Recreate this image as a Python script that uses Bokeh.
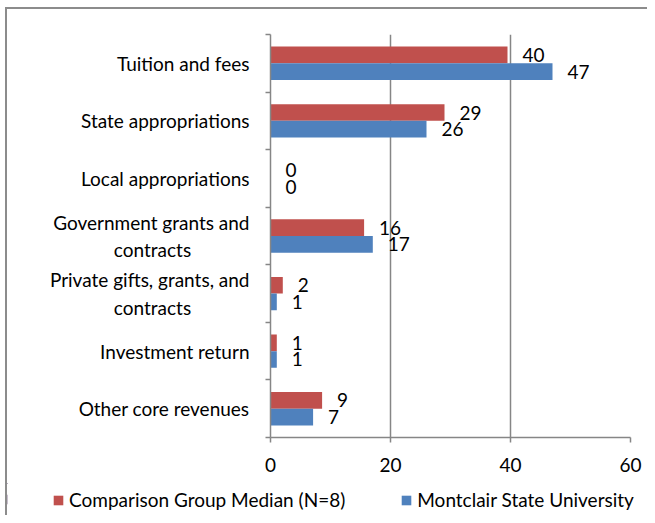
from bokeh.plotting import figure
from bokeh.layouts import column
from bokeh.models import ColumnDataSource, FixedTicker, LabelSet, Legend, LegendItem, Range1d
from bokeh.core.properties import value
from bokeh.embed import file_html
from bokeh.resources import INLINE

categories = ["Tuition and fees", "State appropriations", "Local appropriations",
              "Government grants and\ncontracts", "Private gifts, grants, and\ncontracts",
              "Investment return", "Other core revenues"]
comparison = [39.5, 29.0, 0.0, 15.6, 2.05, 1.05, 8.6]
montclair = [47.0, 26.0, 0.0, 17.05, 1.05, 1.05, 7.1]
series_names = ["Comparison Group Median (N=8)", "Montclair State University"]
series_colors = ["#C0504D", "#4F81BD"]
x_ticks = [0, 20, 40, 60]

FONT = "Lato"
FS = "19px"
GRAY = "#868686"
NBSP = "\u00a0"


def centered(label, pad=12):
    # visually centre the short second line of a right-aligned two-line tick label
    lines = label.split("\n")
    if len(lines) == 1:
        return label
    return lines[0] + "\n" + lines[1] + NBSP * pad


n = len(categories)
ypos = [n - 0.5 - i for i in range(n)]
bar_h = 0.29

src_c = ColumnDataSource(dict(y=[v + bar_h / 2 for v in ypos], right=comparison,
                              label=[f"{v:.0f}" for v in comparison]))
src_m = ColumnDataSource(dict(y=[v - bar_h / 2 for v in ypos], right=montclair,
                              label=[f"{v:.0f}" for v in montclair]))

p = figure(width=640, height=474, output_backend="svg", toolbar_location=None,
           x_range=Range1d(0, 60), y_range=Range1d(0, n),
           min_border_left=263, min_border_right=17, min_border_top=25, min_border_bottom=46)
p.outline_line_color = None
p.background_fill_color = "white"
p.frame_align = False

r_c = p.hbar(y="y", right="right", left=0, height=bar_h, source=src_c,
             fill_color=series_colors[0], line_color=None)
r_m = p.hbar(y="y", right="right", left=0, height=bar_h, source=src_m,
             fill_color=series_colors[1], line_color=None)

for src in (src_c, src_m):
    p.add_layout(LabelSet(x="right", y="y", text="label", source=src, x_offset=15,
                          text_baseline="middle", text_align="left",
                          text_font=value(FONT), text_font_size=FS, text_color="black"))

# y axis
yax = p.yaxis[0]
yax.ticker = FixedTicker(ticks=ypos, minor_ticks=list(range(n + 1)))
yax.major_label_overrides = {y: centered(c) for y, c in zip(ypos, categories)}
yax.major_tick_out = 0
yax.major_tick_in = 0
yax.minor_tick_out = 5
yax.minor_tick_in = 0
yax.minor_tick_line_color = GRAY
yax.minor_tick_line_width = 1.5
yax.axis_line_color = GRAY
yax.axis_line_width = 1.5
yax.major_label_standoff = 16
yax.major_label_text_font = FONT
yax.major_label_text_font_size = FS
yax.major_label_text_color = "black"

# x axis
xax = p.xaxis[0]
xax.ticker = FixedTicker(ticks=x_ticks, minor_ticks=[])
xax.major_tick_out = 5
xax.major_tick_in = 0
xax.major_tick_line_color = GRAY
xax.major_tick_line_width = 1.5
xax.axis_line_color = GRAY
xax.axis_line_width = 1.5
xax.major_label_standoff = 15
xax.major_label_text_font = FONT
xax.major_label_text_font_size = FS
xax.major_label_text_color = "black"

p.ygrid.visible = False
p.xgrid.ticker = FixedTicker(ticks=x_ticks[1:])
p.xgrid.grid_line_color = GRAY
p.xgrid.grid_line_width = 1.5

# legend strip below the chart (its bars lie outside the visible x range)
pl = figure(width=640, height=32, output_backend="svg", toolbar_location=None,
            x_range=Range1d(100, 101), y_range=Range1d(0, 1),
            x_axis_location=None, y_axis_location=None,
            min_border_left=0, min_border_right=0, min_border_top=0, min_border_bottom=0)
pl.frame_align = False
pl.outline_line_color = None
pl.xgrid.visible = False
pl.ygrid.visible = False
lr_c = pl.hbar(y=ypos, right=comparison, left=0, height=bar_h,
               fill_color=series_colors[0], line_color=None)
lr_m = pl.hbar(y=ypos, right=montclair, left=0, height=bar_h,
               fill_color=series_colors[1], line_color=None)

legend = Legend(items=[LegendItem(label=series_names[0], renderers=[lr_c]),
                       LegendItem(label=series_names[1], renderers=[lr_m])],
                orientation="horizontal", location=(45, 4),
                glyph_width=12, glyph_height=12, label_standoff=5, spacing=55,
                label_text_font=FONT, label_text_font_size=FS, label_text_color="black",
                border_line_color=None, background_fill_alpha=0, padding=0, margin=0)
pl.add_layout(legend, "center")

layout = column(p, pl, spacing=0, margin=(7, 0, 0, 5),
                styles={"border-left": "2px solid #8c8c8c", "border-top": "2px solid #8c8c8c"})

open("out.html", "w").write(file_html(layout, INLINE))
